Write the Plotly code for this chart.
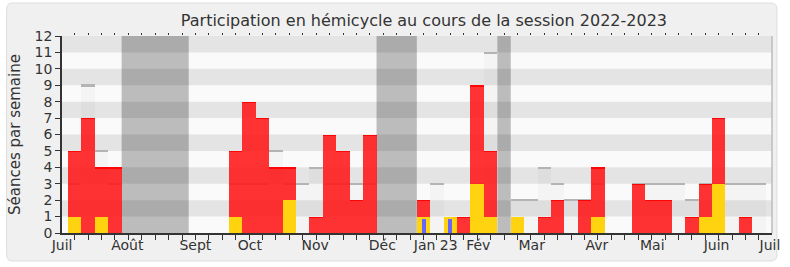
import plotly.graph_objects as go

# ---------------- data ----------------
weeks = list(range(52))
presences = [5, 7, 4, 4, 0, 0, 0, 0, 0, 0, 0, 0, 5, 8, 7, 4, 4, 0, 1, 6, 5, 2, 6, 0, 0, 0,
             2, 0, 0, 1, 9, 5, 0, 0, 0, 1, 2, 0, 2, 4, 0, 0, 3, 2, 2, 0, 1, 3, 7, 0, 1, 0]
interventions = [1, 0, 1, 0, 0, 0, 0, 0, 0, 0, 0, 0, 1, 0, 0, 0, 2, 0, 0, 0, 0, 0, 0, 0, 0, 0,
                 1, 0, 1, 0, 3, 1, 0, 1, 0, 0, 0, 0, 0, 1, 0, 0, 0, 0, 0, 0, 0, 1, 3, 0, 0, 0]
questions = [0] * 26 + [0.85, 0, 0.85] + [0] * 23
mediane = [3, 9, 5, 3, None, None, None, None, None, None, None, None, 3, 3, 3, 5, 3, 3, 4, 3, 3, 3, 3,
           None, None, None, None, 3, None, None, 3, 11, None, 2, 2, 4, 3, 2, 2, 3, None, None,
           3, 3, 3, 3, 2, 3, 3, 3, 3, 3]
vacances = [4, 5, 6, 7, 8, 23, 24, 25, 32]
month_pos = [-0.94, 3.92, 9.0, 13.06, 17.92, 22.93, 26.91, 30.08, 34.06, 38.92, 43.05, 47.84, 51.82]
month_labels = ["Juil", "Août", "Sept", "Oct", "Nov", "Déc", "Jan 23", "Fév", "Mar", "Avr", "Mai", "Juin", "Juil"]
y_ticks = list(range(13))

XR = [-0.943, 51.97]
FONT = "DejaVu Sans"
TXT = "#333333"

fig = go.Figure()

med_w = [w for w, m in zip(weeks, mediane) if m is not None]
med_v = [m for m in mediane if m is not None]
pres_w = [w for w, p in zip(weeks, presences) if p > 0]
pres_v = [p for p in presences if p > 0]

# median shaded area
fig.add_trace(go.Bar(x=med_w, y=med_v, width=1.0, marker=dict(color="rgba(0,0,0,0.025)", line=dict(width=0)),
                     hoverinfo="skip", showlegend=False))
# median top line
fig.add_trace(go.Bar(x=med_w, y=[0.1] * len(med_v), base=[m - 0.05 for m in med_v], width=1.0,
                     marker=dict(color="#b4b4b4", line=dict(width=0)), hoverinfo="skip", showlegend=False))
# presences
fig.add_trace(go.Bar(x=pres_w, y=pres_v, width=1.0,
                     marker=dict(color="rgba(255,23,23,0.88)", line=dict(width=0)),
                     showlegend=False))
# presences top edge
fig.add_trace(go.Bar(x=pres_w, y=[0.08] * len(pres_v), base=[p - 0.08 for p in pres_v], width=1.0,
                     marker=dict(color="rgba(255,0,0,0.9)", line=dict(width=0)),
                     hoverinfo="skip", showlegend=False))
# interventions
fig.add_trace(go.Bar(x=weeks, y=interventions, width=1.0,
                     marker=dict(color="#ffd30f", line=dict(width=0)), showlegend=False))
# questions
fig.add_trace(go.Bar(x=weeks, y=questions, width=0.3, xaxis="x2",
                     marker=dict(color="#6666ff", line=dict(width=0)), showlegend=False))
# dummy for top ticks axis
fig.add_trace(go.Scatter(x=[0], y=[-5], xaxis="x3", mode="markers", marker=dict(size=1, color="rgba(0,0,0,0)"),
                         hoverinfo="skip", showlegend=False))

shapes = []
W, H = 718.0, 197.0
def px(x):
    return (x - 62) / W
def py(y):
    return (233 - y) / H
x0, x1, y0, y1, r = 6, 785, 3, 261, 6
path = (f"M {px(x0 + r)},{py(y0)} L {px(x1 - r)},{py(y0)} Q {px(x1)},{py(y0)} {px(x1)},{py(y0 + r)} "
        f"L {px(x1)},{py(y1 - r)} Q {px(x1)},{py(y1)} {px(x1 - r)},{py(y1)} "
        f"L {px(x0 + r)},{py(y1)} Q {px(x0)},{py(y1)} {px(x0)},{py(y1 - r)} "
        f"L {px(x0)},{py(y0 + r)} Q {px(x0)},{py(y0)} {px(x0 + r)},{py(y0)} Z")
shapes.append(dict(type="path", xref="paper", yref="paper", path=path, fillcolor="#f0f0f0",
                   line=dict(color="#dedede", width=1), layer="below"))
shapes.append(dict(type="rect", xref="x", yref="y", x0=XR[0], x1=XR[1], y0=0, y1=12,
                   fillcolor="#fafafa", line=dict(width=0), layer="below"))
# vacation blocks (merge consecutive weeks)
runs = []
for v in sorted(vacances):
    if runs and v == runs[-1][1] + 1:
        runs[-1][1] = v
    else:
        runs.append([v, v])
for a, b in runs:
    shapes.append(dict(type="rect", xref="x", yref="y", x0=a - 0.5, x1=b + 0.5, y0=0, y1=12,
                       fillcolor="#bcbcbc", line=dict(width=0), layer="below"))
# horizontal stripes
for k in range(1, 12, 2):
    shapes.append(dict(type="rect", xref="x", yref="y", x0=XR[0], x1=XR[1], y0=k, y1=k + 1,
                       fillcolor="rgba(0,0,0,0.085)", line=dict(width=0), layer="below"))
# right border
shapes.append(dict(type="line", xref="paper", yref="paper", x0=1, x1=1, y0=0, y1=1,
                   line=dict(color="#bdbdbd", width=1.5), layer="above"))

fig.update_layout(
    width=790, height=267,
    margin=dict(l=62, r=10, t=36, b=34),
    paper_bgcolor="white",
    plot_bgcolor="rgba(0,0,0,0)",
    barmode="overlay",
    bargap=0,
    shapes=shapes,
    font=dict(family=FONT, color=TXT, size=14),
    title=dict(text="Participation en hémicycle au cours de la session 2022-2023",
               x=(428 - 62) / W, xref="paper", xanchor="center", y=1 - 20.5 / 267, yanchor="middle",
               font=dict(family=FONT, size=16, color=TXT)),
    xaxis=dict(range=XR, tickmode="array", tickvals=weeks, ticktext=[""] * len(weeks),
               ticks="outside", ticklen=5, tickwidth=1, tickcolor=TXT,
               showline=True, linecolor=TXT, linewidth=1.5, showgrid=False, zeroline=False, fixedrange=True),
    xaxis2=dict(range=XR, overlaying="x", anchor="y", side="bottom", tickmode="array",
                tickvals=month_pos, ticktext=month_labels, ticks="", showline=False, ticklabelstandoff=2,
                showgrid=False, zeroline=False, tickfont=dict(family=FONT, size=14, color=TXT)),
    xaxis3=dict(range=XR, overlaying="x", anchor="y", side="top", tickmode="array",
                tickvals=weeks, ticktext=[""] * len(weeks), ticks="outside", ticklen=2, tickwidth=1,
                tickcolor=TXT, showline=False, showgrid=False, zeroline=False),
    yaxis=dict(range=[0, 12], tickmode="array", tickvals=y_ticks, ticks="outside", ticklen=5,
               tickcolor=TXT, showline=True, linecolor=TXT, linewidth=1.5, showgrid=False, zeroline=False,
               tickfont=dict(family=FONT, size=14, color=TXT),
               title=dict(text="Séances par semaine", font=dict(family=FONT, size=15, color=TXT), standoff=10)),
)

fig.write_html("out.html")
